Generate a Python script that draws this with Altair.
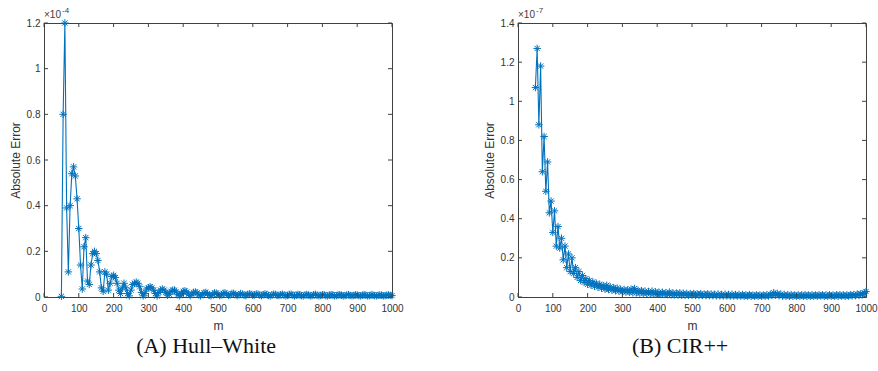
import altair as alt
import pandas as pd

# x grid (number of points m)
m_values = list(range(50, 1001, 5))

# Hull-White absolute error, in units of 1e-4
hw_error = [
    0.003, 0.80, 1.20, 0.39, 0.11, 0.40, 0.54, 0.57, 0.53, 0.43,
    0.30, 0.14, 0.035, 0.22, 0.26, 0.07, 0.055, 0.14, 0.19, 0.20,
    0.19, 0.16, 0.11, 0.04, 0.025, 0.11, 0.10, 0.03, 0.06, 0.09,
    0.095, 0.085, 0.06, 0.03, 0.015, 0.04, 0.06, 0.04, 0.015, 0.005,
    0.03, 0.055, 0.06, 0.065, 0.06, 0.045, 0.02, 0.005, 0.015, 0.035,
    0.04, 0.045, 0.04, 0.03, 0.015, 0.005, 0.02, 0.03, 0.035, 0.03,
    0.02, 0.008, 0.012, 0.025, 0.03, 0.03, 0.022, 0.01, 0.006, 0.015,
    0.025, 0.027, 0.022, 0.012, 0.006, 0.012, 0.02, 0.022, 0.018, 0.01,
    0.005, 0.012, 0.018, 0.02, 0.015, 0.008, 0.005, 0.012, 0.018, 0.017,
    0.012, 0.006, 0.010, 0.016, 0.018, 0.013, 0.007, 0.009, 0.015, 0.016,
    0.011, 0.006, 0.010, 0.015, 0.013, 0.008, 0.006, 0.011, 0.014, 0.012,
    0.007, 0.009, 0.013, 0.012, 0.008, 0.006, 0.010, 0.013, 0.011, 0.007,
    0.005, 0.009, 0.012, 0.011, 0.007, 0.006, 0.010, 0.012, 0.009, 0.005,
    0.007, 0.011, 0.012, 0.008, 0.005, 0.008, 0.011, 0.010, 0.006, 0.005,
    0.009, 0.011, 0.009, 0.005, 0.006, 0.010, 0.011, 0.008, 0.005, 0.007,
    0.010, 0.010, 0.006, 0.005, 0.008, 0.010, 0.009, 0.005, 0.006, 0.009,
    0.010, 0.008, 0.005, 0.006, 0.009, 0.010, 0.007, 0.005, 0.007, 0.009,
    0.009, 0.006, 0.005, 0.008, 0.010, 0.008, 0.005, 0.006, 0.009, 0.009,
    0.006, 0.005, 0.007, 0.009, 0.008, 0.005, 0.006, 0.008, 0.009, 0.007,
    0.006,
]

# CIR++ absolute error, in units of 1e-7
cir_error = [
    1.07, 1.27, 0.88, 1.18, 0.64, 0.82, 0.54, 0.69, 0.43, 0.49,
    0.33, 0.44, 0.26, 0.36, 0.25, 0.30, 0.19, 0.26, 0.15, 0.22,
    0.13, 0.20, 0.12, 0.15, 0.10, 0.13, 0.085, 0.11, 0.075, 0.094,
    0.065, 0.085, 0.06, 0.077, 0.055, 0.07, 0.05, 0.065, 0.045, 0.058,
    0.040, 0.06, 0.038, 0.052, 0.035, 0.048, 0.032, 0.045, 0.03, 0.04,
    0.027, 0.038, 0.025, 0.036, 0.024, 0.040, 0.022, 0.043, 0.021, 0.034,
    0.020, 0.032, 0.018, 0.030, 0.017, 0.028, 0.016, 0.030, 0.015, 0.026,
    0.014, 0.025, 0.013, 0.024, 0.013, 0.022, 0.012, 0.025, 0.011, 0.021,
    0.011, 0.020, 0.010, 0.021, 0.010, 0.019, 0.009, 0.018, 0.009, 0.017,
    0.009, 0.018, 0.008, 0.016, 0.008, 0.017, 0.008, 0.015, 0.007, 0.016,
    0.007, 0.015, 0.007, 0.014, 0.006, 0.015, 0.006, 0.013, 0.006, 0.014,
    0.006, 0.013, 0.005, 0.014, 0.005, 0.012, 0.005, 0.013, 0.005, 0.012,
    0.004, 0.011, 0.004, 0.012, 0.004, 0.010, 0.004, 0.011, 0.004, 0.010,
    0.004, 0.010, 0.004, 0.011, 0.005, 0.014, 0.008, 0.022, 0.010, 0.018,
    0.007, 0.015, 0.005, 0.013, 0.004, 0.011, 0.004, 0.012, 0.004, 0.010,
    0.004, 0.011, 0.004, 0.010, 0.004, 0.012, 0.004, 0.010, 0.004, 0.011,
    0.004, 0.010, 0.004, 0.012, 0.005, 0.011, 0.004, 0.010, 0.004, 0.011,
    0.004, 0.010, 0.004, 0.011, 0.004, 0.012, 0.005, 0.010, 0.004, 0.011,
    0.005, 0.012, 0.006, 0.013, 0.007, 0.015, 0.008, 0.017, 0.012, 0.022,
    0.028,
]

x_ticks = [0, 100, 200, 300, 400, 500, 600, 700, 800, 900, 1000]
hw_yticks = [0, 0.2, 0.4, 0.6, 0.8, 1.0, 1.2]
cir_yticks = [0, 0.2, 0.4, 0.6, 0.8, 1.0, 1.2, 1.4]

W, H = 348, 274
COLOR = "#0072BD"
AXIS = "#404040"
FONT = "Liberation Sans"
STAR = "M-1,0L1,0M0,-1L0,1M-0.7,-0.7L0.7,0.7M-0.7,0.7L0.7,-0.7"
TICK = 4


def panel(values, yticks, ymax, exp_text, caption):
    df = pd.DataFrame({"m": m_values, "err": values})
    xs = alt.Scale(domain=[0, 1000], nice=False, zero=False)
    ys = alt.Scale(domain=[0, ymax], nice=False)
    x_axis = alt.Axis(values=x_ticks, title="m", tickSize=0, labelPadding=6,
                      titlePadding=7, labelFlush=False, labelOverlap=False,
                      format="d")
    y_axis = alt.Axis(values=yticks, title="Absolute Error", format="~g",
                      tickSize=0, labelPadding=4, titlePadding=4,
                      labelFlush=False, labelOverlap=False)
    x_main = alt.X("m:Q", scale=xs, axis=x_axis)
    y_main = alt.Y("err:Q", scale=ys, axis=y_axis)
    line = alt.Chart(df).mark_line(color=COLOR, strokeWidth=1.1).encode(x=x_main, y=y_main)
    pts = alt.Chart(df).mark_point(
        shape=STAR, size=56, color=COLOR, filled=False, strokeWidth=1, opacity=1
    ).encode(x=x_main, y=y_main)

    xt = pd.DataFrame({"m": x_ticks})
    yt = pd.DataFrame({"err": yticks})
    bottom = alt.Chart(xt).mark_rule(color=AXIS, strokeWidth=1).encode(
        x=x_main, y=alt.value(H), y2=alt.value(H - TICK))
    top = alt.Chart(xt).mark_rule(color=AXIS, strokeWidth=1).encode(
        x=x_main, y=alt.value(0), y2=alt.value(TICK))
    left = alt.Chart(yt).mark_rule(color=AXIS, strokeWidth=1).encode(
        y=y_main, x=alt.value(0), x2=alt.value(TICK))
    right = alt.Chart(yt).mark_rule(color=AXIS, strokeWidth=1).encode(
        y=y_main, x=alt.value(W - TICK), x2=alt.value(W))

    ex = pd.DataFrame({"base": ["×10"], "sup": [exp_text]})
    base_txt = alt.Chart(ex).mark_text(
        align="left", baseline="bottom", fontSize=10, font=FONT, color=AXIS
    ).encode(text="base:N", x=alt.value(0), y=alt.value(-3))
    sup_txt = alt.Chart(ex).mark_text(
        align="left", baseline="bottom", fontSize=8, font=FONT, color=AXIS
    ).encode(text="sup:N", x=alt.value(18), y=alt.value(-8))

    return alt.layer(line, pts, bottom, top, left, right, base_txt, sup_txt).properties(
        width=W, height=H,
        title=alt.TitleParams(caption, orient="bottom", anchor="middle", frame="bounds",
                              font="Liberation Serif", fontSize=22, fontWeight="normal",
                              color="#111111", offset=5),
    )


chart = alt.hconcat(
    panel(hw_error, hw_yticks, 1.2, "-4", "(A) Hull–White"),
    panel(cir_error, cir_yticks, 1.4, "-7", "(B) CIR++"),
    spacing=78,
).properties(
    padding={"left": 8, "top": 6, "right": 0, "bottom": 0},
    background="white",
).configure_view(
    stroke=AXIS, strokeWidth=1
).configure_axis(
    grid=False, domainColor=AXIS, domainWidth=1, labelColor="#333333",
    labelFont=FONT, labelFontSize=10, titleFont=FONT, titleFontSize=12,
    titleFontWeight="normal", titleColor="#333333", labelOverlap=False,
    tickCount=20,
)

chart.save("out.html", embed_options={"renderer": "svg", "actions": False})
